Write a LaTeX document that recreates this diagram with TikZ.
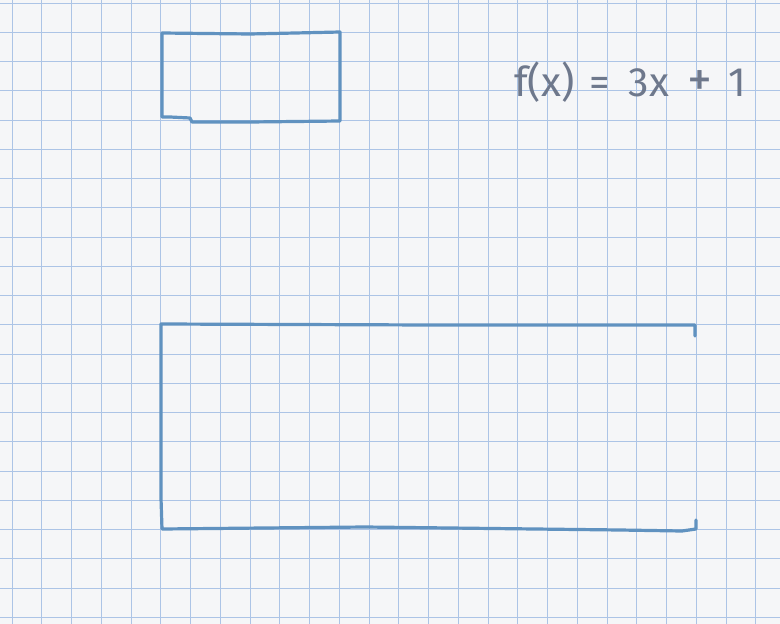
\documentclass[tikz,border=0pt]{standalone}
\usepackage{fontspec}
\setmainfont{Fira Sans}
\definecolor{paper}{RGB}{245,246,248}
\definecolor{gridblue}{RGB}{172,196,230}
\definecolor{ink}{RGB}{96,146,192}
\definecolor{pencil}{RGB}{110,120,140}
\tikzset{
  gridline/.style={draw=gridblue, line width=0.7pt},
  penline/.style={draw=ink, line width=3.2pt, line cap=round, line join=round},
  formula/.style={text=pencil, font=\fontsize{41}{41}\selectfont, inner sep=0pt}
}
\begin{document}
\begin{tikzpicture}[x=1pt,y=-1pt]
\useasboundingbox (0,0) rectangle (780,624);
\fill[paper] (0,0) rectangle (780,624);
% grid
\foreach \k in {0,...,26} {
  \draw[gridline] ({12+29.75*\k},0) -- ({12+29.75*\k},624);
}
\foreach \k in {0,...,21} {
  \draw[gridline] (0,{3+29.25*\k}) -- (780,{3+29.25*\k});
}
% top rectangle
\draw[penline] (162,33) -- (250,34) -- (340,32) -- (340,121) -- (250,122) -- (192,122) -- (190,118) -- (170,117) -- (162,117) -- cycle;
% bottom open rectangle
\draw[penline] (695,336) -- (695,325) -- (430,325) -- (161,324) -- (161,498) -- (162,529) -- (365,527) -- (620,530) -- (682,531) -- (696,529) -- (696,520);
% formula
\node[formula, anchor=base west] (fx) at (514,96) {f(x)\hspace{15pt}=\hspace{19pt}3x\hspace{18pt}{\fontsize{50}{50}\selectfont+}\hspace{16pt}1};
\end{tikzpicture}
\end{document}
